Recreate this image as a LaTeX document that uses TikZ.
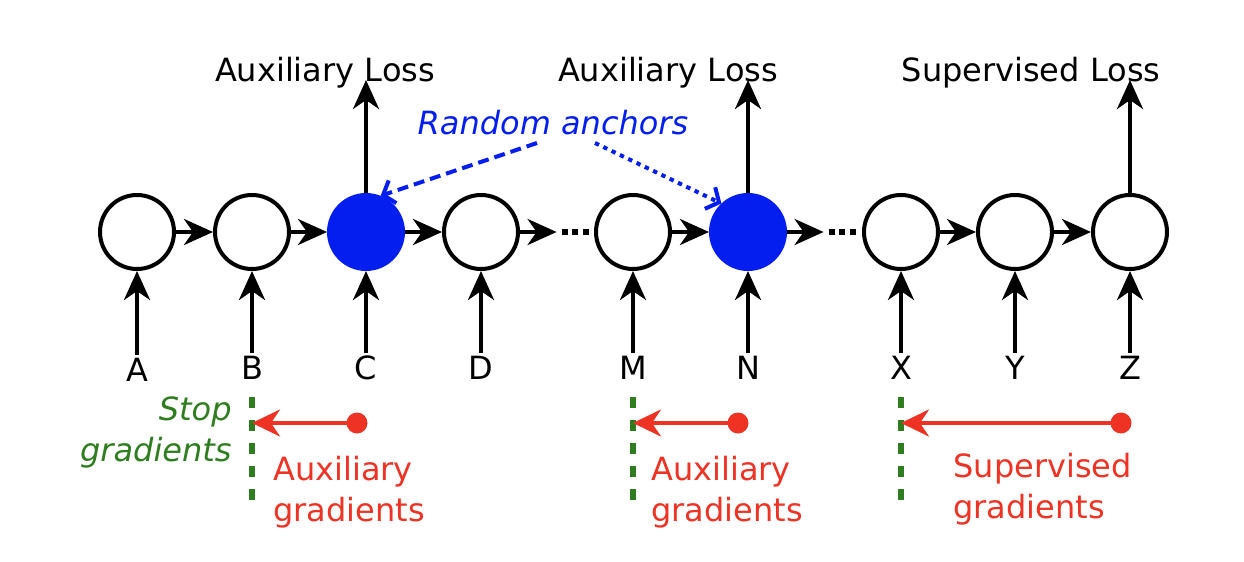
\documentclass[tikz,border=0pt]{standalone}
\usepackage{fontspec}
\setmainfont{DejaVu Sans}
\usetikzlibrary{arrows.meta}
\definecolor{ablue}{RGB}{5,30,240}
\definecolor{ared}{RGB}{238,51,36}
\definecolor{agreen}{RGB}{46,125,30}
\begin{document}
\begin{tikzpicture}[x=0.5pt,y=-0.5pt, font=\fontsize{16}{20.5}\selectfont,
  unit/.style={circle, draw=black, line width=2pt, minimum size=37pt, inner sep=0pt},
  anchorunit/.style={unit, fill=ablue, draw=ablue},
  arr/.style={line width=2pt, -{Stealth[length=14.5pt,width=13pt,inset=4.5pt]}},
  inlabel/.style={anchor=base, text height=0.73em, text depth=0pt, inner sep=5.3pt},
  losslabel/.style={anchor=base, inner sep=0pt},
  dotsnode/.style={minimum width=13.5pt, minimum height=3pt, inner sep=0pt},
  dotsline/.style={line width=3pt, dash pattern=on 3pt off 2.25pt},
  bluedash/.style={ablue, line width=2pt, dash pattern=on 5.5pt off 3pt, -{Straight Barb[length=5pt,width=12pt]}},
  bluedot/.style={ablue, line width=2pt, dash pattern=on 2.2pt off 2.4pt, -{Straight Barb[length=5pt,width=12pt]}},
  rdot/.style={circle, fill=ared, minimum size=10.5pt, inner sep=0pt},
  rarr/.style={ared, line width=2pt, -{Stealth[length=14pt,width=13.5pt,inset=4.5pt]}},
  stopline/.style={agreen, line width=2.6pt, dash pattern=on 5.5pt off 6pt},
  redtext/.style={ared, align=left, anchor=west, inner sep=0pt},
  greentext/.style={agreen, align=right, anchor=east, inner sep=0pt, font=\fontsize{16}{20.5}\selectfont\itshape}
]
\useasboundingbox (0,0) rectangle (1244,562);

% units
\node[unit] (A) at (137,232) {};
\node[unit] (B) at (252,232) {};
\node[anchorunit] (C) at (366,232) {};
\node[unit] (D) at (481,232) {};
\node[unit] (M) at (633,232) {};
\node[anchorunit] (N) at (748,232) {};
\node[unit] (X) at (901,232) {};
\node[unit] (Y) at (1015,232) {};
\node[unit] (Z) at (1130,232) {};

% dots
\node[dotsnode] (dl) at (575.5,232) {};
\node[dotsnode] (dr) at (842.5,232) {};
\draw[dotsline] (dl.west) -- (dl.east);
\draw[dotsline] (dr.west) -- (dr.east);

% horizontal arrows
\draw[arr] (A) -- (B);
\draw[arr] (B) -- (C);
\draw[arr] (C) -- (D);
\draw[arr, shorten >=2.5pt] (D) -- (dl.west);
\draw[arr] (M) -- (N);
\draw[arr, shorten >=2.5pt] (N) -- (dr.west);
\draw[arr] (X) -- (Y);
\draw[arr] (Y) -- (Z);

% input labels
\node[inlabel] (la) at (137,381) {A};
\node[inlabel] (lb) at (252,379) {B};
\node[inlabel] (lc) at (366,379) {C};
\node[inlabel] (ld) at (481,379) {D};
\node[inlabel] (lm) at (633,379) {M};
\node[inlabel] (ln) at (748,379) {N};
\node[inlabel] (lx) at (901,379) {X};
\node[inlabel] (ly) at (1015,379) {Y};
\node[inlabel] (lz) at (1130,379) {Z};
\draw[arr] (la) -- (A);
\draw[arr] (lb) -- (B);
\draw[arr] (lc) -- (C);
\draw[arr] (ld) -- (D);
\draw[arr] (lm) -- (M);
\draw[arr] (ln) -- (N);
\draw[arr] (lx) -- (X);
\draw[arr] (ly) -- (Y);
\draw[arr] (lz) -- (Z);

% losses
\coordinate (tc) at (366,80);
\coordinate (tn) at (748,80);
\coordinate (tz) at (1130,80);
\draw[arr] (C) -- (tc);
\draw[arr] (N) -- (tn);
\draw[arr] (Z) -- (tz);
\node[losslabel] (l1) at (325,81) {Auxiliary Loss};
\node[losslabel] (l2) at (668,81) {Auxiliary Loss};
\node[losslabel] (l3) at (1031,81) {Supervised Loss};

% random anchors
\node[losslabel, ablue, font=\fontsize{16}{20.5}\selectfont\itshape] (ra) at (553,134) {Random anchors};
\coordinate (raL) at (537,143);
\coordinate (raR) at (595,143);
\draw[bluedash] (raL) -- (C.68);
\draw[bluedot] (raR) -- (N.133);

% stop gradients
\coordinate (g1a) at (252,397); \coordinate (g1b) at (252,500);
\coordinate (g2a) at (633,397); \coordinate (g2b) at (633,500);
\coordinate (g3a) at (901,397); \coordinate (g3b) at (901,500);
\draw[stopline] (g1a) -- (g1b);
\draw[stopline] (g2a) -- (g2b);
\draw[stopline] (g3a) -- (g3b);
\node[greentext] (sg) at (232,432) {Stop\\gradients};

% gradient arrows
\node[rdot] (d1) at (357,423) {};
\node[rdot] (d2) at (738,423) {};
\node[rdot] (d3) at (1121,423) {};
\coordinate (s1) at (252,423);
\coordinate (s2) at (633,423);
\coordinate (s3) at (901,423);
\draw[rarr] (d1.center) -- (s1);
\draw[rarr] (d2.center) -- (s2);
\draw[rarr] (d3.center) -- (s3);
\node[redtext] (t1) at (273,492) {Auxiliary\\gradients};
\node[redtext] (t2) at (651,492) {Auxiliary\\gradients};
\node[redtext] (t3) at (953,489) {Supervised\\gradients};
\end{tikzpicture}
\end{document}
